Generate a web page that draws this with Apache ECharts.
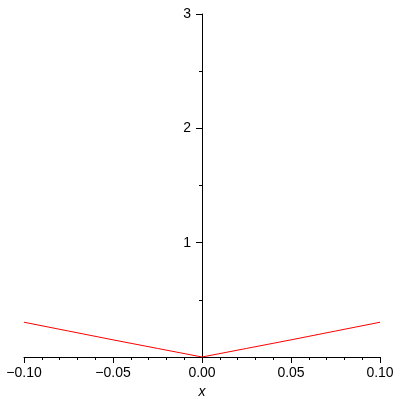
<!DOCTYPE html>
<html>
<head>
<meta charset="utf-8">
<script src="https://cdn.jsdelivr.net/npm/echarts@6/dist/echarts.min.js"></script>
<style>html,body{margin:0;padding:0;background:#fff}#c{width:400px;height:400px}</style>
</head>
<body>
<div id="c"></div>
<script>
var xValues = [-0.1, -0.075, -0.05, -0.025, 0, 0.025, 0.05, 0.075, 0.1];
var yValues = [0.304, 0.227, 0.150, 0.075, 0, 0.075, 0.150, 0.227, 0.304];
var xTicks = [-0.1, -0.05, 0, 0.05, 0.1];
var yTicks = [1, 2, 3];

var data = xValues.map(function (x, i) { return [x, yValues[i]]; });
var font = 'Liberation Sans';
var chart = echarts.init(document.getElementById('c'));
chart.setOption({
  animation: false,
  grid: { left: 24, right: 20, top: 14, bottom: 43, containLabel: false, outerBoundsMode: 'none' },
  xAxis: {
    type: 'value', min: -0.1, max: 0.1, interval: 0.05,
    name: 'x', nameLocation: 'middle', nameGap: 28,
    nameTextStyle: { fontFamily: font, fontSize: 14, fontStyle: 'italic', color: '#000' },
    axisLine: { onZero: false, lineStyle: { color: '#000', width: 1 } },
    axisTick: { show: true, inside: false, length: 6, lineStyle: { color: '#000' } },
    minorTick: { show: true, splitNumber: 5, length: 3, lineStyle: { color: '#000' } },
    splitLine: { show: false },
    axisLabel: {
      margin: 9, fontFamily: font, fontSize: 14, color: '#000',
      formatter: function (v) { return (v < 0 ? '\u2212' : '') + Math.abs(v).toFixed(2); }
    }
  },
  yAxis: {
    type: 'value', min: 0, max: 3, interval: 1, position: 'left', offset: -178,
    axisLine: { onZero: false, lineStyle: { color: '#000', width: 1 } },
    axisTick: { show: true, length: 6, lineStyle: { color: '#000' } },
    minorTick: { show: true, splitNumber: 2, length: 3, lineStyle: { color: '#000' } },
    splitLine: { show: false },
    axisLabel: {
      margin: 11, fontFamily: font, fontSize: 14, color: '#000', showMinLabel: false,
      formatter: function (v) { return yTicks.indexOf(v) >= 0 ? String(v) : ''; }
    }
  },
  series: [{
    type: 'line', data: data, symbol: 'none',
    lineStyle: { color: '#ff0000', width: 1 }
  }]
});
</script>
</body>
</html>
